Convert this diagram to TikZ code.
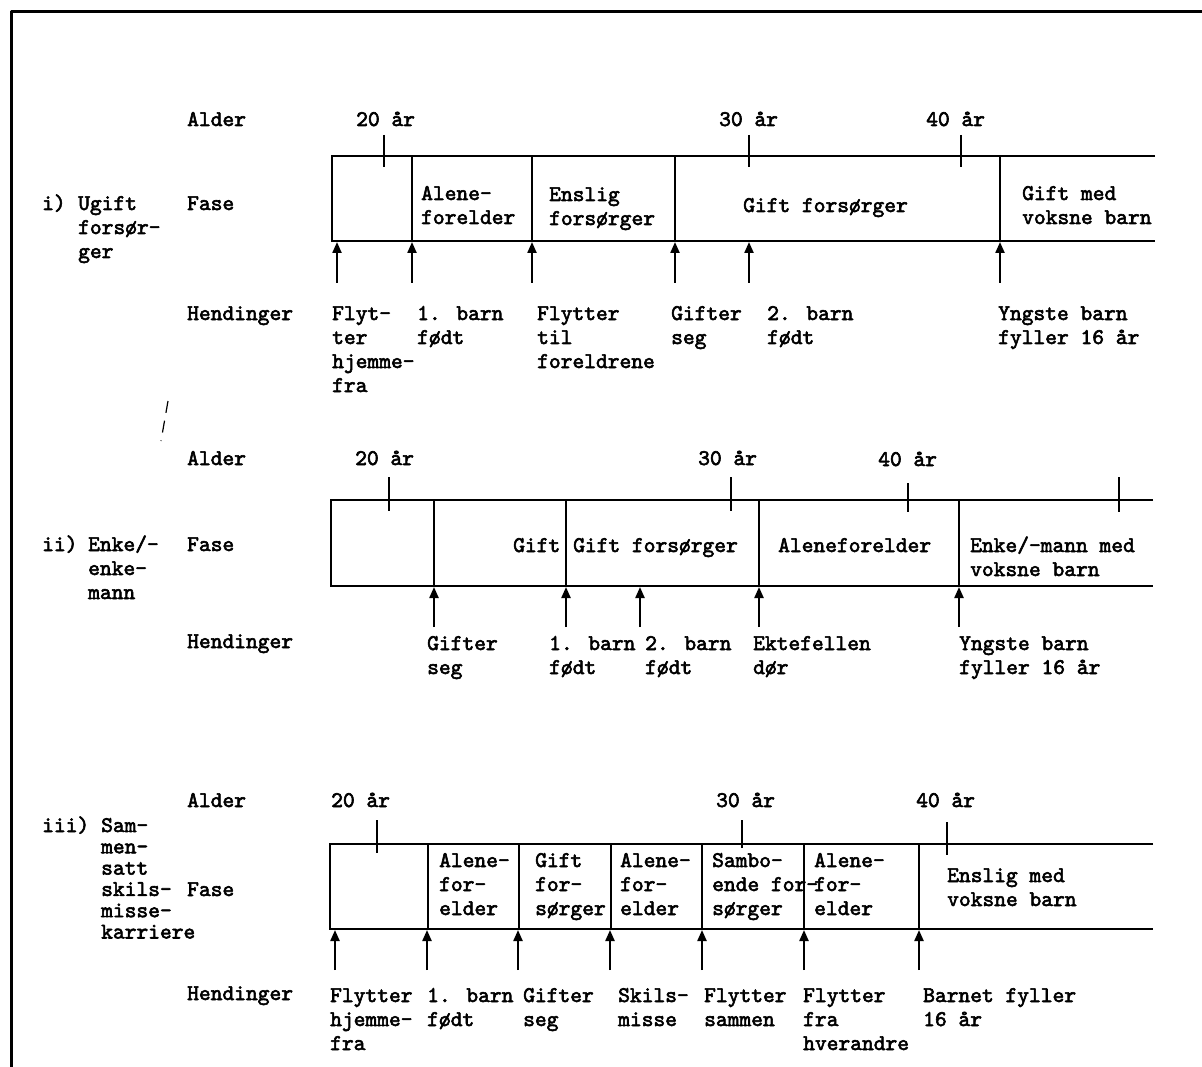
\documentclass[tikz,border=0pt]{standalone}
\usepackage{fontspec}
\newfontfamily\tw[Extension=.otf,FakeBold=2.6]{lmmono10-regular}
\usetikzlibrary{arrows.meta}
\newcommand{\ml}[1]{\begin{tabular}[t]{@{}l@{}}#1\end{tabular}}
\begin{document}
\begin{tikzpicture}[x=1pt,y=-1pt,
  frm/.style={line width=3pt,line cap=round,line join=round},
  bx/.style={line width=2.3pt,line join=miter},
  tk/.style={line width=2pt},
  ev/.style={line width=2.2pt,-{Triangle[width=9pt,length=11pt]}},
  lbl/.style={anchor=base west,inner sep=0pt,font=\tw\fontsize{22.4}{24}\selectfont},
  tight/.style={lbl,font=\tw\fontsize{22.4}{21.3}\selectfont}]
\useasboundingbox (0,0) rectangle (1202,1067);
\fill[white] (0,0) rectangle (1202,1067);
% frame
\draw[frm] (11,1067) -- (11,12) -- (1202,12);
% stray dashed mark
\draw[line width=1.2pt,dash pattern=on 12pt off 8pt] (168,401) -- (161,441);

%%%%%%%%%%%%%%%% Section i
\node[lbl] (al1) at (187,126) {Alder};
\node[lbl] (a20i) at (356,126) {20 år};
\node[lbl] (a30i) at (719,126) {30 år};
\node[lbl] (a40i) at (926,126) {40 år};
\node[lbl] (fa1) at (187,210) {Fase};
\node[lbl] (n1) at (42,210) {i)};
\node[lbl] (t1) at (78,210) {\ml{Ugift\\forsør-\\ger}};
\node[lbl] (h1) at (187,320) {Hendinger};
\draw[bx] (1155,156) -- (332,156) -- (332,241) -- (1155,241);
\foreach \x in {412,532,675,1000} \draw[bx] (\x,156) -- (\x,241);
\foreach \x in {384,749,961} \draw[tk] (\x,135) -- (\x,167);
\node[lbl] (p1a) at (421,200) {\ml{Alene-\\forelder}};
\node[lbl] (p1b) at (549,201) {\ml{Enslig\\forsørger}};
\node[lbl] (p1c) at (743,212) {Gift forsørger};
\node[lbl] (p1d) at (1022,200) {\ml{Gift med\\voksne barn}};
\node[lbl] (e1a) at (332,320) {\ml{Flyt-\\ter\\hjemme-\\fra}};
\node[lbl] (e1b) at (417,320) {\ml{1. barn\\født}};
\node[lbl] (e1c) at (537,320) {\ml{Flytter\\til\\foreldrene}};
\node[lbl] (e1d) at (671,320) {\ml{Gifter\\seg}};
\node[lbl] (e1e) at (767,320) {\ml{2. barn\\født}};
\node[lbl] (e1f) at (998,320) {\ml{Yngste barn\\fyller 16 år}};
\foreach \x [count=\k] in {337,412,532,675,749,1000} {
  \coordinate (ti\k) at (\x,283); \coordinate (hi\k) at (\x,242);
  \draw[ev] (ti\k) -- (hi\k);}

%%%%%%%%%%%%%%%% Section ii
\node[lbl] (al2) at (187,465) {Alder};
\node[lbl] (a20ii) at (355,465) {20 år};
\node[lbl] (a30ii) at (698,465) {30 år};
\node[lbl] (a40ii) at (878,466) {40 år};
\node[lbl] (fa2) at (187,551) {Fase};
\node[lbl] (n2) at (42,551) {ii)};
\node[lbl] (t2) at (88,551) {\ml{Enke/-\\enke-\\mann}};
\node[lbl] (h2) at (187,648) {Hendinger};
\draw[bx] (1153,500) -- (331,500) -- (331,586) -- (1153,586);
\foreach \x in {434,566,759,959} \draw[bx] (\x,500) -- (\x,586);
\draw[tk] (389,477) -- (389,511);
\draw[tk] (731,477) -- (731,511);
\draw[tk] (908,483) -- (908,512);
\draw[tk] (1119,477) -- (1119,512);
\node[lbl] (p2a) at (513,552) {Gift};
\node[lbl] (p2b) at (573,552) {Gift forsørger};
\node[lbl] (p2c) at (778,552) {Aleneforelder};
\node[lbl] (p2d) at (970,552) {\ml{Enke/-mann med\\voksne barn}};
\node[lbl] (e2a) at (427,650) {\ml{Gifter\\seg}};
\node[lbl] (e2b) at (549,650) {\ml{1. barn\\født}};
\node[lbl] (e2c) at (645,650) {\ml{2. barn\\født}};
\node[lbl] (e2d) at (753,650) {\ml{Ektefellen\\dør}};
\node[lbl] (e2e) at (959,650) {\ml{Yngste barn\\fyller 16 år}};
\foreach \x [count=\k] in {434,566,640,759,959} {
  \coordinate (tii\k) at (\x,627); \coordinate (hii\k) at (\x,587);
  \draw[ev] (tii\k) -- (hii\k);}

%%%%%%%%%%%%%%%% Section iii
\node[lbl] (al3) at (187,807) {Alder};
\node[lbl] (a20iii) at (331,807) {20 år};
\node[lbl] (a30iii) at (716,807) {30 år};
\node[lbl] (a40iii) at (916,807) {40 år};
\node[lbl] (n3) at (42,832) {iii)};
\node[tight] (t3) at (101,832) {\ml{Sam-\\men-\\satt\\skils-\\misse-\\karriere}};
\node[lbl] (fa3) at (187,896) {Fase};
\node[lbl] (h3) at (187,1000) {Hendinger};
\draw[bx] (1153,844) -- (330,844) -- (330,929) -- (1153,929);
\foreach \x in {428,519,611,702,804,919} \draw[bx] (\x,844) -- (\x,929);
\draw[tk] (377,820) -- (377,853);
\draw[tk] (742,820) -- (742,848);
\draw[tk] (947,822) -- (947,855);
\node[lbl] (p3a) at (439,867) {\ml{Alene-\\for-\\elder}};
\node[lbl] (p3b) at (535,867) {\ml{Gift\\for-\\sørger}};
\node[lbl] (p3c) at (620,867) {\ml{Alene-\\for-\\elder}};
\node[lbl] (p3d) at (712,867) {\ml{Sambo-\\ende for-\\sørger}};
\node[lbl] (p3e) at (814,867) {\ml{Alene-\\for-\\elder}};
\node[lbl] (p3f) at (947,882) {\ml{Enslig med\\voksne barn}};
\node[lbl] (e3a) at (330,1002) {\ml{Flytter\\hjemme-\\fra}};
\node[lbl] (e3b) at (427,1002) {\ml{1. barn\\født}};
\node[lbl] (e3c) at (523,1002) {\ml{Gifter\\seg}};
\node[lbl] (e3d) at (618,1002) {\ml{Skils-\\misse}};
\node[lbl] (e3e) at (704,1002) {\ml{Flytter\\sammen}};
\node[lbl] (e3f) at (803,1002) {\ml{Flytter\\fra\\hverandre}};
\node[lbl] (e3g) at (923,1002) {\ml{Barnet fyller\\16 år}};
\foreach \x [count=\k] in {335,427,518,610,702,804,919} {
  \coordinate (tiii\k) at (\x,970); \coordinate (hiii\k) at (\x,930);
  \draw[ev] (tiii\k) -- (hiii\k);}
\end{tikzpicture}
\end{document}
